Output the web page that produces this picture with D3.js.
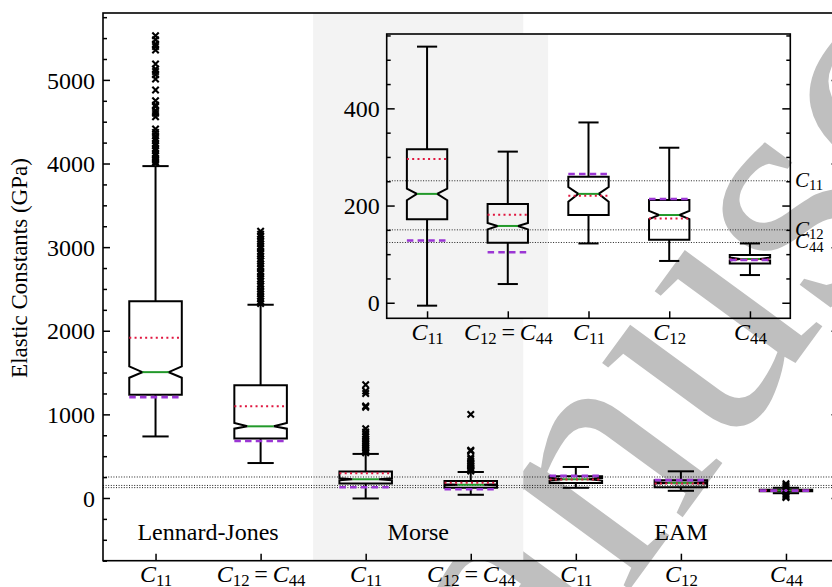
<!DOCTYPE html>
<html>
<head>
<meta charset="utf-8">
<script src="https://cdn.jsdelivr.net/npm/d3@7"></script>
<style>
  html, body { margin: 0; padding: 0; background: #ffffff; }
  svg { display: block; }
  text { font-family: "Liberation Serif", "Times New Roman", serif; fill: #000; }
</style>
</head>
<body>
<svg id="chart" width="832" height="587"></svg>
<script>
// ---------------- data ----------------
const categories = ["LJ C11", "LJ C12=C44", "Morse C11", "Morse C12=C44", "EAM C11", "EAM C12", "EAM C44"];
const positions = [1, 2, 3, 4, 5, 6, 7];
const mainTickLabels = ["C_11", "C_12 = C_44", "C_11", "C_12 = C_44", "C_11", "C_12", "C_44"];
const insetTickLabels = ["C_11", "C_12 = C_44", "C_11", "C_12", "C_44"];
const insetIndices = [2, 3, 4, 5, 6];

const whiskerLow  = [736, 418, -6, 38.5, 122, 86, 57];
const q1          = [1234, 710, 172, 123.5, 180.5, 129.6, 81];
const notchLow    = [1438, 829, 211, 151, 208, 172, 87];
const median      = [1505, 857, 224, 158, 224, 180.5, 90];
const notchHigh   = [1573, 896, 235, 164, 238, 189, 93];
const q3          = [2354, 1347, 315.6, 203, 259.3, 211.3, 98];
const whiskerHigh = [3969, 2311, 527, 311, 371, 319, 122];
const meanValues  = [1916, 1096, 296, 181, 220, 173.6, 89];
const refValues   = [1206, 681, 128, 104, 265, 213.4, 88];

const outliers = [
  [5528, 5480, 5429, 5400, 5357, 5190, 5130, 5100, 5062, 5010, 4879, 4751, 4700, 4680, 4632, 4600, 4560,
   4413, 4373, 4333, 4300, 4274, 4240, 4214, 4180, 4154, 4120, 4094, 4060, 4043, 4020, 4002],
  [3190, 3155, 3128, 3096, 3072, 3041, 3008, 2985, 2948, 2921, 2893, 2858, 2834, 2801, 2772, 2745, 2706,
   2684, 2652, 2618, 2593, 2561, 2534, 2497, 2468, 2442, 2411, 2383, 2352, 2326],
  [1355, 1280, 1250, 1100, 1085, 830, 790, 760, 735, 705, 680, 660, 640, 615, 595, 575, 555, 540],
  [1000, 572, 560, 485, 465, 440, 420, 400, 385, 365, 350, 335, 322],
  [],
  [],
  [170, 150, 135, 45, 30, 15, 5]
];

const groupNames = ["Lennard-Jones", "Morse", "EAM"];
const groupCenters = [1.5, 3.5, 6];
const experimental = [251, 150, 124];
const experimentalLabels = ["C_11", "C_12", "C_44"];

const mainYMajor = [0, 1000, 2000, 3000, 4000, 5000];
const mainYMinor = [-750, -500, -250, 250, 500, 750, 1250, 1500, 1750, 2250, 2500, 2750, 3250, 3500, 3750,
                    4250, 4500, 4750, 5250, 5500, 5750];
const insetYMajor = [0, 200, 400];
const insetYMinor = [50, 100, 150, 250, 300, 350, 450, 500, 550];

// ---------------- setup ----------------
const svg = d3.select("#chart");
const FONT = 24;

const x = d3.scaleLinear().domain([0.5, 7.5]).range([103, 838.5]);
const y = d3.scaleLinear().domain([-750, 5800]).range([560.7, 13]);
const xi = d3.scaleLinear().domain([0.5, 5.5]).range([386.7, 790.3]);
const yi = d3.scaleLinear().domain([-32, 553]).range([318.3, 34]);

const COL = {
  band: "#f3f3f3",
  median: "#22992a",
  mean: "#e0163f",
  ref: "#9b36d4",
  watermark: "#bfbfbf"
};

function mathLabel(textSel, str, size) {
  textSel.text(null);
  const shift = size * 0.17;
  let pending = 0;
  const parts = str.split(" = ");
  parts.forEach((p, k) => {
    if (k > 0) {
      const t = textSel.append("tspan").attr("font-style", "normal").attr("font-size", size).text("\u2009=\u2009");
      if (pending) { t.attr("dy", pending); pending = 0; }
    }
    const [base, sub] = p.split("_");
    const b = textSel.append("tspan").attr("font-style", "italic").attr("font-size", size).text(base);
    if (pending) { b.attr("dy", pending); pending = 0; }
    if (sub) {
      textSel.append("tspan").attr("font-size", size * 0.7).attr("dy", shift).text(sub);
      pending = -shift;
    }
  });
}

// ---------------- watermark (beneath everything) ----------------
const wm = svg.append("g").attr("transform", "translate(625,596) rotate(-53.8)");
wm.append("text").attr("font-size", 340).attr("text-anchor", "start")
  .style("fill", COL.watermark).text("nuscript");
wm.append("text").attr("font-size", 340).attr("text-anchor", "end")
  .style("fill", COL.watermark).text("Ma");

// ---------------- main axes ----------------
const main = svg.append("g");
main.append("rect")
  .attr("x", x(2.5)).attr("width", x(4.5) - x(2.5))
  .attr("y", y(5800)).attr("height", y(-750) - y(5800))
  .attr("fill", COL.band);

main.selectAll("line.exp").data(experimental).join("line")
  .attr("x1", x(0.5)).attr("x2", x(7.5))
  .attr("y1", d => y(d)).attr("y2", d => y(d))
  .attr("stroke", "#222").attr("stroke-width", 1).attr("stroke-dasharray", "1,1.6");

function drawBoxes(g, xs, ys, idxs, posList, showFliers) {
  idxs.forEach((i, k) => {
    const p = posList[k];
    const L = xs(p - 0.25), R = xs(p + 0.25), cL = xs(p - 0.125), cR = xs(p + 0.125), c = xs(p);
    const bg = g.append("g");
    bg.append("line").attr("x1", c).attr("x2", c).attr("y1", ys(q3[i])).attr("y2", ys(whiskerHigh[i]))
      .attr("stroke", "#000").attr("stroke-width", 2);
    bg.append("line").attr("x1", c).attr("x2", c).attr("y1", ys(q1[i])).attr("y2", ys(whiskerLow[i]))
      .attr("stroke", "#000").attr("stroke-width", 2);
    [whiskerHigh[i], whiskerLow[i]].forEach(v => {
      bg.append("line").attr("x1", cL).attr("x2", cR).attr("y1", ys(v)).attr("y2", ys(v))
        .attr("stroke", "#000").attr("stroke-width", 2);
    });
    const pts = [
      [L, ys(q1[i])], [R, ys(q1[i])], [R, ys(notchLow[i])], [cR, ys(median[i])], [R, ys(notchHigh[i])],
      [R, ys(q3[i])], [L, ys(q3[i])], [L, ys(notchHigh[i])], [cL, ys(median[i])], [L, ys(notchLow[i])]
    ];
    bg.append("path").attr("d", d3.line()(pts) + "Z")
      .attr("fill", "none").attr("stroke", "#000").attr("stroke-width", 2).attr("stroke-linejoin", "miter");
    bg.append("line").attr("x1", cL).attr("x2", cR).attr("y1", ys(median[i])).attr("y2", ys(median[i]))
      .attr("stroke", COL.median).attr("stroke-width", 2);
    bg.append("line").attr("x1", L).attr("x2", R).attr("y1", ys(meanValues[i])).attr("y2", ys(meanValues[i]))
      .attr("stroke", COL.mean).attr("stroke-width", 2).attr("stroke-dasharray", "2,3.3");
    bg.append("line").attr("x1", L).attr("x2", R).attr("y1", ys(refValues[i])).attr("y2", ys(refValues[i]))
      .attr("stroke", COL.ref).attr("stroke-width", 2.6).attr("stroke-dasharray", "6.5,4.2");
    if (showFliers) {
      bg.selectAll("path.flier").data(outliers[i]).join("path")
        .attr("transform", v => `translate(${c},${ys(v)})`)
        .attr("d", "M-3.2,-3.2L3.2,3.2M-3.2,3.2L3.2,-3.2")
        .attr("stroke", "#000").attr("stroke-width", 2.1).attr("fill", "none");
    }
  });
}
drawBoxes(main, x, y, d3.range(7), positions, true);

main.selectAll("text.group").data(groupNames).join("text")
  .attr("x", (d, i) => x(groupCenters[i])).attr("y", 540)
  .attr("text-anchor", "middle").attr("font-size", FONT).text(d => d);

function cleanAxis(a, keepText) {
  a.select(".domain").remove();
  a.selectAll("line").attr("stroke", "#000").attr("stroke-width", 1.5);
  if (!keepText) a.selectAll("text").remove();
}

const yMajor = main.append("g").attr("transform", `translate(${x(0.5)},0)`)
  .call(d3.axisLeft(y).tickValues(mainYMajor).tickSizeInner(-7).tickSizeOuter(0).tickPadding(8).tickFormat(d3.format("d")));
const yMinor = main.append("g").attr("transform", `translate(${x(0.5)},0)`)
  .call(d3.axisLeft(y).tickValues(mainYMinor).tickSizeInner(-4).tickSizeOuter(0));
const yRightMajor = main.append("g").attr("transform", `translate(${x(7.5)},0)`)
  .call(d3.axisRight(y).tickValues(mainYMajor).tickSizeInner(-7).tickSizeOuter(0));
const yRightMinor = main.append("g").attr("transform", `translate(${x(7.5)},0)`)
  .call(d3.axisRight(y).tickValues(mainYMinor).tickSizeInner(-4).tickSizeOuter(0));
const xMain = main.append("g").attr("transform", `translate(0,${y(-750)})`)
  .call(d3.axisBottom(x).tickValues(positions).tickSizeInner(-7).tickSizeOuter(0)
    .tickFormat((d, i) => mainTickLabels[i]));
cleanAxis(yMajor, true); cleanAxis(yMinor, false); cleanAxis(yRightMajor, false);
cleanAxis(yRightMinor, false); cleanAxis(xMain, true);
yMajor.selectAll("text").attr("font-size", FONT).attr("font-family", null).attr("dy", "0.34em");
xMain.selectAll("text").attr("font-family", null).attr("y", 21.5).attr("dy", null)
  .each(function(d, i) { mathLabel(d3.select(this), mainTickLabels[i], FONT); });

main.append("rect")
  .attr("x", x(0.5)).attr("y", y(5800)).attr("width", x(7.5) - x(0.5)).attr("height", y(-750) - y(5800))
  .attr("fill", "none").attr("stroke", "#000").attr("stroke-width", 1.6);

svg.append("text").attr("transform", "translate(27,268) rotate(-90)")
  .attr("text-anchor", "middle").attr("font-size", 23).text("Elastic Constants (GPa)");

// ---------------- inset axes ----------------
const inset = svg.append("g");
inset.append("rect")
  .attr("x", xi(0.5)).attr("width", xi(2.5) - xi(0.5))
  .attr("y", yi(553)).attr("height", yi(-32) - yi(553))
  .attr("fill", COL.band);
inset.selectAll("line.exp").data(experimental).join("line")
  .attr("x1", xi(0.5)).attr("x2", xi(5.5))
  .attr("y1", d => yi(d)).attr("y2", d => yi(d))
  .attr("stroke", "#222").attr("stroke-width", 1).attr("stroke-dasharray", "1,1.6");

drawBoxes(inset, xi, yi, insetIndices, [1, 2, 3, 4, 5], false);

const iyMajor = inset.append("g").attr("transform", `translate(${xi(0.5)},0)`)
  .call(d3.axisLeft(yi).tickValues(insetYMajor).tickSizeInner(-8).tickSizeOuter(0).tickPadding(7).tickFormat(d3.format("d")));
const iyMinor = inset.append("g").attr("transform", `translate(${xi(0.5)},0)`)
  .call(d3.axisLeft(yi).tickValues(insetYMinor).tickSizeInner(-4).tickSizeOuter(0));
const iyRMajor = inset.append("g").attr("transform", `translate(${xi(5.5)},0)`)
  .call(d3.axisRight(yi).tickValues(insetYMajor).tickSizeInner(-8).tickSizeOuter(0));
const iyRMinor = inset.append("g").attr("transform", `translate(${xi(5.5)},0)`)
  .call(d3.axisRight(yi).tickValues(insetYMinor).tickSizeInner(-4).tickSizeOuter(0));
const ixAxis = inset.append("g").attr("transform", `translate(0,${yi(-32)})`)
  .call(d3.axisBottom(xi).tickValues([1, 2, 3, 4, 5]).tickSizeInner(-7).tickSizeOuter(0)
    .tickFormat((d, i) => insetTickLabels[i]));
cleanAxis(iyMajor, true); cleanAxis(iyMinor, false); cleanAxis(iyRMajor, false);
cleanAxis(iyRMinor, false); cleanAxis(ixAxis, true);
iyMajor.selectAll("text").attr("font-size", FONT).attr("font-family", null).attr("dy", "0.34em");
ixAxis.selectAll("text").attr("font-family", null).attr("y", 21.5).attr("dy", null)
  .each(function(d, i) { mathLabel(d3.select(this), insetTickLabels[i], FONT); });

inset.append("rect")
  .attr("x", xi(0.5)).attr("y", yi(553)).attr("width", xi(5.5) - xi(0.5)).attr("height", yi(-32) - yi(553))
  .attr("fill", "none").attr("stroke", "#000").attr("stroke-width", 1.6);

svg.selectAll("text.explabel").data(experimentalLabels).join("text")
  .attr("x", 795).attr("y", (d, i) => yi(experimental[i]) + 6)
  .attr("text-anchor", "start")
  .each(function(d) { mathLabel(d3.select(this), d, 21); });
</script>
</body>
</html>
